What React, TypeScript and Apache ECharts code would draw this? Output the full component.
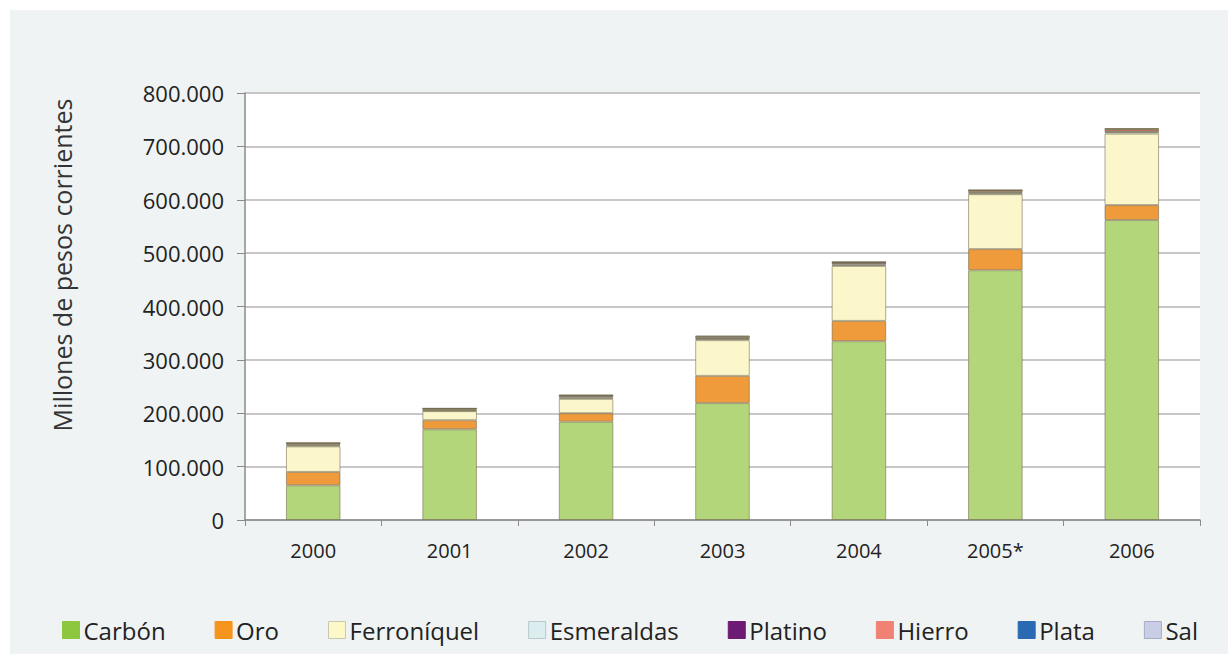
import React, { useEffect, useRef } from "react";
import * as echarts from "echarts";

const years = ["2000", "2001", "2002", "2003", "2004", "2005*", "2006"];
const carbon = [65000, 170000, 184000, 219000, 335000, 468000, 562000];
const oro = [25000, 17000, 16000, 51000, 38000, 39500, 28000];
const ferroniquel = [48000, 17000, 27000, 67000, 103000, 103000, 134000];
const esmeraldas = [2000, 1000, 2000, 2000, 2000, 1500, 3000];
const platino = [1500, 1500, 3000, 3000, 3500, 2500, 1000];
const hierro = [2000, 2000, 1000, 1000, 1000, 3000, 4000];
const plata = [500, 300, 300, 500, 500, 300, 500];
const sal = [1000, 700, 1500, 2000, 1000, 500, 1500];
const yTicks = [0, 100000, 200000, 300000, 400000, 500000, 600000, 700000, 800000];

const seriesNames = ["Carbón", "Oro", "Ferroníquel", "Esmeraldas", "Platino", "Hierro", "Plata", "Sal"];
const seriesValues = [carbon, oro, ferroniquel, esmeraldas, platino, hierro, plata, sal];
const barColors = ["#b4d67b", "#ef9a3b", "#fbf7cb", "#d4ebee", "#5e4a72", "#e8837a", "#2f6db4", "#c2c6e2"];
const legendColors = ["#8dc63f", "#f7941d", "#fdf8c8", "#dcedf0", "#6d1a74", "#f08173", "#2a6ab3", "#c9cde6"];
const legendBorders = ["#8dc63f", "#f7941d", "#c8c8b0", "#b8c8cc", "#6d1a74", "#f08173", "#2a6ab3", "#a8acc4"];

const fmt = (v: number) => String(v).replace(/\B(?=(\d{3})+(?!\d))/g, ".");

export default function App() {
  const ref = useRef<HTMLDivElement>(null);
  useEffect(() => {
    if (!ref.current) return;
    const chart = echarts.init(ref.current, undefined, { renderer: "svg" });
    const font = "'Open Sans', 'Noto Sans', sans-serif";
    chart.setOption({
      animation: false,
      backgroundColor: "#ffffff",
      textStyle: { fontFamily: font },
      graphic: [
        {
          type: "rect",
          z: -10,
          shape: { x: 10, y: 10, width: 1218, height: 644 },
          style: { fill: "#eff3f3" },
          silent: true,
        },
        {
          type: "text",
          x: 62,
          y: 265,
          rotation: Math.PI / 2,
          style: {
            text: "Millones de pesos corrientes",
            fontFamily: font,
            fontSize: 25,
            fill: "#333",
            align: "center",
            verticalAlign: "middle",
          },
        },
      ],
      grid: {
        left: 245,
        top: 93,
        right: 28,
        bottom: 134,
        show: true,
        backgroundColor: "#ffffff",
        borderWidth: 0,
      },
      legend: {
        left: 57,
        top: 613,
        itemWidth: 17,
        itemHeight: 17,
        itemGap: 49,
        textStyle: { fontFamily: font, fontSize: 24, color: "#222", padding: [0, 0, 0, -1] },
        data: seriesNames.map((n, i) => ({
          name: n,
          icon: "rect",
          itemStyle: { color: legendColors[i], borderColor: legendBorders[i], borderWidth: 1 },
        })),
      },
      xAxis: {
        type: "category",
        data: years,
        axisLine: { show: true, lineStyle: { color: "#8a8a8a", width: 1.5 } },
        axisTick: { show: true, length: 6, lineStyle: { color: "#8a8a8a" } },
        axisLabel: { fontFamily: font, fontSize: 20, color: "#222", margin: 20 },
      },
      yAxis: {
        type: "value",
        min: 0,
        max: 800000,
        interval: 100000,
        axisLine: { show: true, lineStyle: { color: "#8a8a8a", width: 1.5 } },
        axisTick: { show: true, length: 8, lineStyle: { color: "#8a8a8a" } },
        splitLine: { show: true, lineStyle: { color: "#b5b5b5", width: 1.5 } },
        axisLabel: {
          fontFamily: font,
          fontSize: 22,
          color: "#222",
          margin: 21,
          formatter: (v: number) => (yTicks.includes(v) ? fmt(v) : ""),
        },
      },
      series: seriesNames.map((n, i) => ({
        name: n,
        type: "bar",
        stack: "total",
        barWidth: "40%",
        data: seriesValues[i],
        itemStyle: { color: barColors[i], borderColor: "rgba(110,100,70,0.55)", borderWidth: 1 },
      })),
    });
    return () => chart.dispose();
  }, []);
  return (
    <div
      ref={ref}
      style={{ position: "absolute", left: 0, top: 0, width: 1228, height: 654 }}
    />
  );
}
